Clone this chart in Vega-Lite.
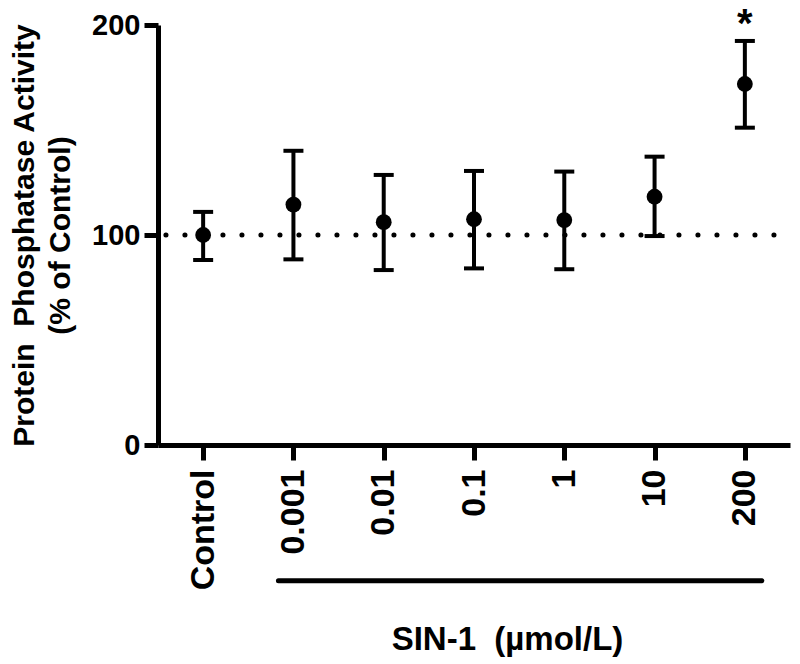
{
  "$schema": "https://vega.github.io/schema/vega-lite/v6.json",
  "width": 632,
  "height": 420,
  "autosize": {"type": "none"},
  "padding": {"left": 158, "top": 25, "right": 10, "bottom": 219},
  "config": {
    "view": {"stroke": null},
    "font": "Liberation Sans",
    "axis": {
      "grid": false,
      "domainColor": "black",
      "domainWidth": 5,
      "tickColor": "black",
      "tickWidth": 5,
      "labelColor": "black",
      "titleColor": "black",
      "labelFont": "Liberation Sans",
      "titleFont": "Liberation Sans",
      "labelFontWeight": "bold",
      "titleFontWeight": "bold",
      "labelOverlap": false
    },
    "axisX": {
      "titleFontSize": 33,
      "titleX": 349,
      "titleY": 204,
      "titleBaseline": "alphabetic",
      "labelFontSize": 34,
      "labelAngle": -90,
      "labelPadding": 9,
      "tickSize": 15
    },
    "axisY": {
      "titleFontSize": 30,
      "titleLineHeight": 36,
      "titlePadding": 16,
      "labelFontSize": 29,
      "labelPadding": 4,
      "tickSize": 14,
      "tickCount": 3
    }
  },
  "data": {
    "values": [
      {"dose": "Control", "mean": 100, "lo": 88.1, "hi": 111, "sig": ""},
      {"dose": "0.001", "mean": 114.5, "lo": 88.4, "hi": 140.1, "sig": ""},
      {"dose": "0.01", "mean": 106.1, "lo": 83.3, "hi": 128.6, "sig": ""},
      {"dose": "0.1", "mean": 107.5, "lo": 84.1, "hi": 130.5, "sig": ""},
      {"dose": "1", "mean": 107.1, "lo": 83.7, "hi": 130.2, "sig": ""},
      {"dose": "10", "mean": 118.2, "lo": 99.5, "hi": 137.3, "sig": ""},
      {"dose": "200", "mean": 171.9, "lo": 151.1, "hi": 192.4, "sig": "*"}
    ]
  },
  "layer": [
    {
      "data": {"values": [{"ref": 100}]},
      "mark": {"type": "rule", "color": "black", "strokeWidth": 5, "strokeCap": "round", "strokeDash": [0.1, 18.9], "strokeDashOffset": 3},
      "encoding": {
        "y": {"field": "ref", "type": "quantitative", "scale": {"domain": [0, 200]}, "title": ["Protein\u00a0 Phosphatase Activity", "(% of Control)"], "axis": {"values": [0, 100, 200]}}
      }
    },
    {
      "mark": {"type": "rule", "color": "black", "strokeWidth": 4},
      "encoding": {
        "x": {"field": "dose", "type": "ordinal", "sort": ["Control", "0.001", "0.01", "0.1", "1", "10", "200"], "scale": {"type": "point", "padding": 0.5, "domain": ["Control", "0.001", "0.01", "0.1", "1", "10", "200"]}, "title": "SIN-1\u00a0 (µmol/L)"},
        "y": {"field": "lo", "type": "quantitative", "scale": {"domain": [0, 200]}, "title": ["Protein\u00a0 Phosphatase Activity", "(% of Control)"], "axis": {"values": [0, 100, 200]}},
        "y2": {"field": "hi"}
      }
    },
    {
      "mark": {"type": "tick", "color": "black", "size": 20, "thickness": 4, "opacity": 1},
      "encoding": {
        "x": {"field": "dose", "type": "ordinal", "title": "SIN-1\u00a0 (µmol/L)"},
        "y": {"field": "lo", "type": "quantitative", "title": ["Protein\u00a0 Phosphatase Activity", "(% of Control)"], "axis": {"values": [0, 100, 200]}}
      }
    },
    {
      "mark": {"type": "tick", "color": "black", "size": 20, "thickness": 4, "opacity": 1},
      "encoding": {
        "x": {"field": "dose", "type": "ordinal", "title": "SIN-1\u00a0 (µmol/L)"},
        "y": {"field": "hi", "type": "quantitative", "title": ["Protein\u00a0 Phosphatase Activity", "(% of Control)"], "axis": {"values": [0, 100, 200]}}
      }
    },
    {
      "mark": {"type": "circle", "color": "black", "size": 250, "opacity": 1},
      "encoding": {
        "x": {"field": "dose", "type": "ordinal", "title": "SIN-1\u00a0 (µmol/L)"},
        "y": {"field": "mean", "type": "quantitative", "title": ["Protein\u00a0 Phosphatase Activity", "(% of Control)"], "axis": {"values": [0, 100, 200]}}
      }
    },
    {
      "mark": {"type": "text", "color": "black", "fontSize": 40, "fontWeight": "bold", "baseline": "alphabetic", "dy": -4},
      "encoding": {
        "x": {"field": "dose", "type": "ordinal", "title": "SIN-1\u00a0 (µmol/L)"},
        "y": {"field": "hi", "type": "quantitative", "title": ["Protein\u00a0 Phosphatase Activity", "(% of Control)"], "axis": {"values": [0, 100, 200]}},
        "text": {"field": "sig"}
      }
    },
    {
      "data": {"values": [{"from": "0.001", "to": "200", "level": -64.6}]},
      "mark": {"type": "rule", "color": "black", "strokeWidth": 5, "strokeCap": "round", "xOffset": -15, "x2Offset": 17},
      "encoding": {
        "x": {"field": "from", "type": "ordinal", "title": "SIN-1\u00a0 (µmol/L)"},
        "x2": {"field": "to"},
        "y": {"field": "level", "type": "quantitative", "title": ["Protein\u00a0 Phosphatase Activity", "(% of Control)"], "axis": {"values": [0, 100, 200]}}
      }
    }
  ]
}
